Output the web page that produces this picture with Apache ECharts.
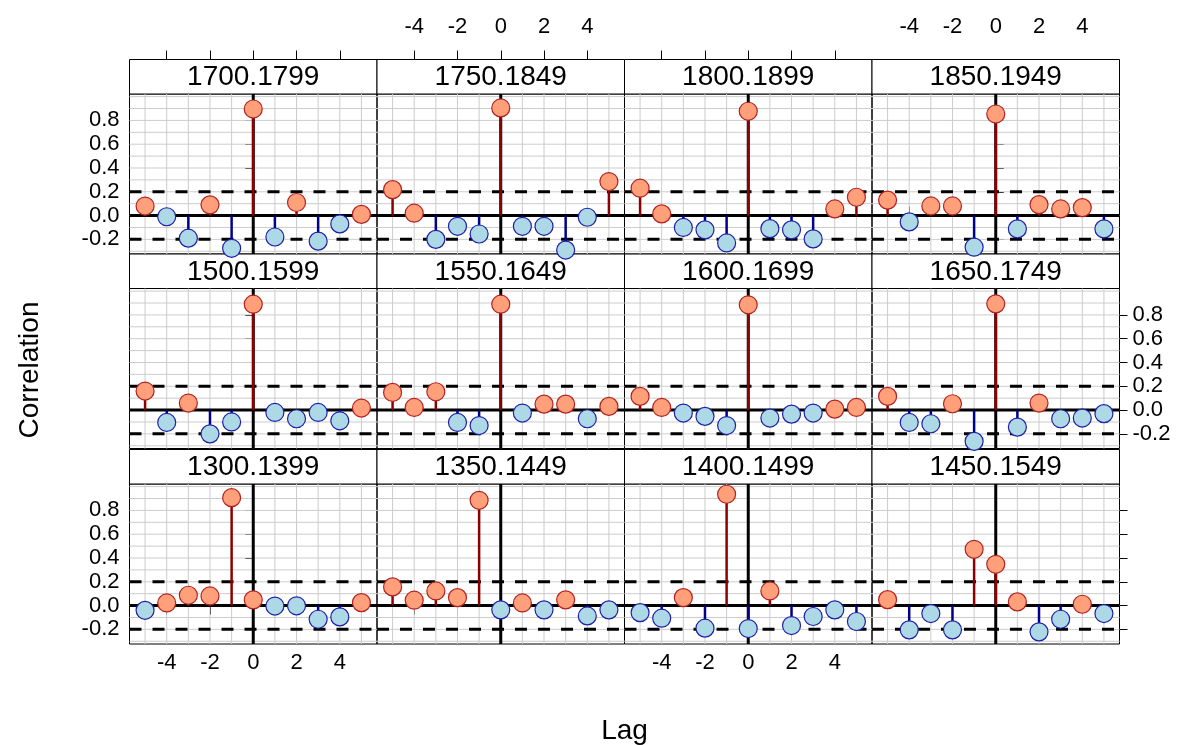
<!DOCTYPE html>
<html><head><meta charset="utf-8">
<script src="https://cdn.jsdelivr.net/npm/echarts@6/dist/echarts.min.js"></script>
<style>html,body{margin:0;padding:0;background:#fff}#c{width:1187px;height:745px}</style>
</head><body><div id="c"></div>
<script>
// ---- data ----
const lags = [-5, -4, -3, -2, -1, 0, 1, 2, 3, 4, 5];
const xTicks = [-4, -2, 0, 2, 4];
const yTicks = [-0.2, 0, 0.2, 0.4, 0.6, 0.8];
const xGridVals = [-5, -4, -3, -2, -1, 0, 1, 2, 3, 4, 5];
const yGridVals = [-0.3, -0.2, -0.1, 0, 0.1, 0.2, 0.3, 0.4, 0.5, 0.6, 0.7, 0.8, 0.9, 1.0];
const ciBound = 0.2;
const panelNames = ['1300.1399', '1350.1449', '1400.1499', '1450.1549',
                    '1500.1599', '1550.1649', '1600.1699', '1650.1749',
                    '1700.1799', '1750.1849', '1800.1899', '1850.1949'];
const acf1300 = [-0.04, 0.022, 0.087, 0.081, 0.907, 0.048, -0.004, -0.002, -0.115, -0.095, 0.025];
const acf1350 = [0.157, 0.045, 0.123, 0.067, 0.885, -0.036, 0.022, -0.036, 0.048, -0.087, -0.036];
const acf1400 = [-0.059, -0.106, 0.067, -0.19, 0.936, -0.193, 0.123, -0.168, -0.092, -0.036, -0.134];
const acf1450 = [0.05, -0.204, -0.067, -0.204, 0.473, 0.347, 0.031, -0.221, -0.115, 0.011, -0.067];
const acf1500 = [0.16, -0.104, 0.059, -0.20, -0.10, 0.89, -0.02, -0.073, -0.02, -0.09, 0.017];
const acf1550 = [0.148, 0.022, 0.154, -0.104, -0.13, 0.89, -0.025, 0.05, 0.05, -0.073, 0.031];
const acf1600 = [0.115, 0.022, -0.025, -0.053, -0.13, 0.885, -0.067, -0.034, -0.025, 0.008, 0.022];
const acf1650 = [0.115, -0.104, -0.115, 0.053, -0.263, 0.893, -0.143, 0.059, -0.073, -0.067, -0.03];
const acf1700 = [0.08, -0.01, -0.19, 0.09, -0.275, 0.896, -0.18, 0.11, -0.215, -0.07, 0.01];
const acf1750 = [0.218, 0.02, -0.2, -0.09, -0.155, 0.905, -0.09, -0.09, -0.29, -0.014, 0.286];
const acf1800 = [0.23, 0.014, -0.10, -0.12, -0.23, 0.877, -0.11, -0.12, -0.196, 0.056, 0.154];
const acf1850 = [0.13, -0.053, 0.081, 0.081, -0.266, 0.854, -0.112, 0.092, 0.056, 0.067, -0.112];
const panelValues = [acf1300, acf1350, acf1400, acf1450, acf1500, acf1550, acf1600, acf1650,
                     acf1700, acf1750, acf1800, acf1850];

// ---- layout / style ----
const XMIN = -5.72, XMAX = 5.72, YMIN = -0.323, YMAX = 1.022;
const colLeft = [129.5, 377, 624.5, 872];
const colW = 247.5;
const rowTop = [59.5, 254, 449.5];
const stripH = 34.5, panelH = 160;
const FONT = "'Liberation Sans', Arial, Helvetica, sans-serif";
const posFill = '#FFA07A', posBorder = '#B22222', posStem = '#8B0000';
const negFill = '#ADD8E6', negBorder = '#1F1FA8', negStem = '#00008B';
const gridColor = '#cccccc';

const grids = [], xAxes = [], yAxes = [], series = [], graphics = [];
const fmt = v => (Math.abs(v) < 1e-9 ? 0 : v).toFixed(1);

panelValues.forEach((vals, p) => {
  const col = p % 4;
  const srow = 2 - Math.floor(p / 4); // screen row from top
  const left = colLeft[col], top = rowTop[srow] + stripH;
  grids.push({left: left, top: top, width: colW, height: panelH, show: true,
              borderColor: '#000', borderWidth: 1, backgroundColor: 'transparent', containLabel: false});
  const gi = grids.length - 1;
  xAxes.push({gridIndex: gi, type: 'value', min: XMIN, max: XMAX, position: 'bottom',
    axisLine: {show: false}, splitLine: {show: false},
    axisTick: {show: srow === 2, customValues: xTicks, length: 9, lineStyle: {color: '#000', width: 1}},
    axisLabel: {show: srow === 2 && (col === 0 || col === 2), customValues: xTicks, margin: 8,
      fontSize: 22, color: '#000', fontFamily: FONT}});
  const xi = xAxes.length - 1;
  if (srow === 0) {
    // top axis drawn above the strip
    xAxes.push({gridIndex: gi, type: 'value', min: XMIN, max: XMAX, position: 'top', offset: stripH,
      axisLine: {show: false}, splitLine: {show: false},
      axisTick: {show: true, customValues: xTicks, length: 9, lineStyle: {color: '#000', width: 1}},
      axisLabel: {show: col === 1 || col === 3, customValues: xTicks, margin: 22,
        fontSize: 22, color: '#000', fontFamily: FONT}});
  }
  yAxes.push({gridIndex: gi, type: 'value', min: YMIN, max: YMAX, position: 'left',
    axisLine: {show: false}, splitLine: {show: false},
    axisTick: {show: col === 0, customValues: yTicks, length: 8, lineStyle: {color: '#000', width: 1}},
    axisLabel: {show: col === 0 && srow !== 1, customValues: yTicks, margin: 10, formatter: fmt,
      fontSize: 22, color: '#000', fontFamily: FONT}});
  const yi = yAxes.length - 1;
  if (col === 3) {
    yAxes.push({gridIndex: gi, type: 'value', min: YMIN, max: YMAX, position: 'right',
      axisLine: {show: false}, splitLine: {show: false},
      axisTick: {show: true, customValues: yTicks, length: 8, lineStyle: {color: '#000', width: 1}},
      axisLabel: {show: srow === 1, customValues: yTicks, margin: 13, formatter: fmt,
        fontSize: 22, color: '#000', fontFamily: FONT}});
  }
  // grid lines
  series.push({type: 'custom', xAxisIndex: xi, yAxisIndex: yi, z: 1, silent: true, clip: false,
    data: xGridVals.map(v => [v, 0]),
    renderItem: (params, api) => {
      const a = api.coord([api.value(0), YMIN]), b = api.coord([api.value(0), YMAX]);
      return {type: 'line', shape: {x1: a[0], y1: a[1], x2: b[0], y2: b[1]},
              style: {stroke: gridColor, lineWidth: 1}};
    }});
  series.push({type: 'custom', xAxisIndex: xi, yAxisIndex: yi, z: 1, silent: true, clip: false,
    data: yGridVals.map(v => [0, v]),
    renderItem: (params, api) => {
      const a = api.coord([XMIN, api.value(1)]), b = api.coord([XMAX, api.value(1)]);
      return {type: 'line', shape: {x1: a[0], y1: a[1], x2: b[0], y2: b[1]},
              style: {stroke: gridColor, lineWidth: 1}};
    }});
  // reference lines
  series.push({type: 'custom', xAxisIndex: xi, yAxisIndex: yi, z: 2, silent: true, clip: false,
    data: [[0, 0]],
    renderItem: (params, api) => {
      const h = (y, dash) => {
        const a = api.coord([XMIN, y]), b = api.coord([XMAX, y]);
        return {type: 'line', shape: {x1: a[0], y1: a[1], x2: b[0], y2: b[1]},
                style: {stroke: '#000', lineWidth: 3, lineDash: dash}};
      };
      const v0 = api.coord([0, YMIN]), v1 = api.coord([0, YMAX]);
      return {type: 'group', children: [
        h(0, null), h(ciBound, [12, 11]), h(-ciBound, [12, 11]),
        {type: 'line', shape: {x1: v0[0], y1: v0[1], x2: v1[0], y2: v1[1]},
         style: {stroke: '#000', lineWidth: 3}}
      ]};
    }});
  // stems
  series.push({type: 'custom', xAxisIndex: xi, yAxisIndex: yi, z: 3, silent: true, clip: false,
    data: lags.map((l, i) => [l, vals[i]]),
    renderItem: (params, api) => {
      const x = api.value(0), y = api.value(1);
      const a = api.coord([x, 0]), b = api.coord([x, y]);
      return {type: 'line', shape: {x1: a[0], y1: a[1], x2: b[0], y2: b[1]},
              style: {stroke: y >= 0 ? posStem : negStem, lineWidth: 2.5}};
    }});
  // points
  series.push({type: 'scatter', xAxisIndex: xi, yAxisIndex: yi, z: 4, silent: true,
    symbol: 'circle', symbolSize: 18,
    data: lags.map((l, i) => ({value: [l, vals[i]],
      itemStyle: {color: vals[i] >= 0 ? posFill : negFill,
                  borderColor: vals[i] >= 0 ? posBorder : negBorder, borderWidth: 1.2, opacity: 1}}))});
  // strip
  graphics.push({type: 'rect', shape: {x: left, y: rowTop[srow], width: colW, height: stripH},
    style: {fill: '#fff', stroke: '#000', lineWidth: 1}, z: 1});
  graphics.push({type: 'text', x: left + colW / 2, y: rowTop[srow] + stripH / 2 + 1, z: 2,
    style: {text: panelNames[p], font: '28px ' + FONT, fill: '#000',
            align: 'center', verticalAlign: 'middle', textAlign: 'center', textVerticalAlign: 'middle'}});
});

graphics.push({type: 'text', x: 30, y: 370, rotation: Math.PI / 2, z: 2,
  style: {text: 'Correlation', font: '28px ' + FONT, fill: '#000',
          align: 'center', verticalAlign: 'middle', textAlign: 'center', textVerticalAlign: 'middle'}});
graphics.push({type: 'text', x: 624.5, y: 731, z: 2,
  style: {text: 'Lag', font: '28px ' + FONT, fill: '#000',
          align: 'center', verticalAlign: 'middle', textAlign: 'center', textVerticalAlign: 'middle'}});

const chart = echarts.init(document.getElementById('c'), null, {renderer: 'canvas'});
chart.setOption({
  animation: false,
  backgroundColor: '#fff',
  grid: grids, xAxis: xAxes, yAxis: yAxes, series: series,
  graphic: graphics
});
</script>
</body></html>
